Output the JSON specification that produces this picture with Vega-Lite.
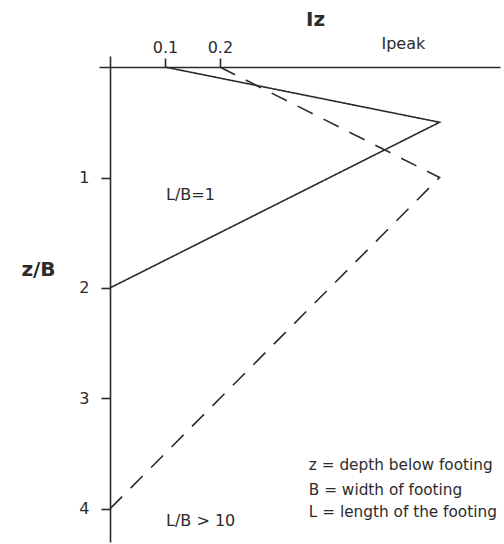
{
  "$schema": "https://vega.github.io/schema/vega-lite/v6.json",
  "width": 401,
  "height": 486,
  "autosize": {"type": "none"},
  "padding": {"left": 99, "top": 56, "right": 4, "bottom": 2},
  "background": "white",
  "config": {"view": {"stroke": null}, "font": "DejaVu Sans"},
  "datasets": {
    "curves": [
      {"case": "L/B=1", "order": 1, "Iz": 0.1, "zB": 0},
      {"case": "L/B=1", "order": 2, "Iz": 0.6, "zB": 0.5},
      {"case": "L/B=1", "order": 3, "Iz": 0.0, "zB": 2},
      {"case": "L/B>10", "order": 1, "Iz": 0.2, "zB": 0},
      {"case": "L/B>10", "order": 2, "Iz": 0.6, "zB": 1},
      {"case": "L/B>10", "order": 3, "Iz": 0.0, "zB": 4}
    ],
    "caseLabels": [
      {"text": "L/B=1", "Iz": 0.102, "zB": 1.16},
      {"text": "L/B > 10", "Iz": 0.102, "zB": 4.11}
    ],
    "notes": [
      {"text": "z = depth below footing", "Iz": 0.362, "zB": 3.6},
      {"text": "B = width of footing", "Iz": 0.362, "zB": 3.83},
      {"text": "L = length of the footing", "Iz": 0.362, "zB": 4.03}
    ],
    "centerLabels": [
      {"text": "Ipeak", "Iz": 0.534, "zB": -0.21}
    ]
  },
  "layer": [
    {
      "data": {"name": "curves"},
      "mark": {"type": "line", "color": "#2b2b2b", "strokeWidth": 1.6, "clip": false},
      "encoding": {
        "x": {
          "field": "Iz", "type": "quantitative",
          "scale": {"domain": [-0.02, 0.71], "nice": false, "zero": false},
          "axis": {
            "orient": "top", "offset": -11, "values": [0.1, 0.2], "format": ".1f",
            "grid": false, "domainColor": "#2b2b2b", "domainWidth": 1.6,
            "tickColor": "#2b2b2b", "tickWidth": 1.6, "tickSize": 9,
            "labelFontSize": 16, "labelColor": "#2b2b2b", "labelPadding": 3,
            "title": "Iz", "titleFontSize": 20, "titleFontWeight": "bold", "titleColor": "#2b2b2b",
            "titleX": 216, "titleY": -38, "titleAnchor": "middle"
          }
        },
        "y": {
          "field": "zB", "type": "quantitative",
          "scale": {"domain": [-0.1, 4.3], "nice": false, "zero": false, "reverse": true},
          "axis": {
            "orient": "left", "offset": -11, "values": [1, 2, 3, 4], "format": "d",
            "grid": false, "domainColor": "#2b2b2b", "domainWidth": 1.6,
            "tickColor": "#2b2b2b", "tickWidth": 1.6, "tickSize": 9,
            "labelFontSize": 16, "labelColor": "#2b2b2b", "labelPadding": 12,
            "title": "z/B", "titleFontSize": 20, "titleFontWeight": "bold", "titleColor": "#2b2b2b",
            "titleAngle": 0, "titleX": -72, "titleY": 213, "titleAlign": "center", "titleBaseline": "middle"
          }
        },
        "order": {"field": "order"},
        "detail": {"field": "case"},
        "strokeDash": {
          "field": "case", "type": "nominal",
          "scale": {"domain": ["L/B=1", "L/B>10"], "range": [[1, 0], [17, 12]]},
          "legend": null
        }
      }
    },
    {
      "data": {"name": "caseLabels"},
      "mark": {"type": "text", "fontSize": 16, "color": "#2b2b2b", "align": "left", "baseline": "middle", "clip": false},
      "encoding": {
        "x": {"field": "Iz", "type": "quantitative"},
        "y": {"field": "zB", "type": "quantitative"},
        "text": {"field": "text"}
      }
    },
    {
      "data": {"name": "notes"},
      "mark": {"type": "text", "fontSize": 15.3, "color": "#2b2b2b", "align": "left", "baseline": "middle", "clip": false},
      "encoding": {
        "x": {"field": "Iz", "type": "quantitative"},
        "y": {"field": "zB", "type": "quantitative"},
        "text": {"field": "text"}
      }
    },
    {
      "data": {"name": "centerLabels"},
      "mark": {"type": "text", "fontSize": 16, "color": "#2b2b2b", "align": "center", "baseline": "middle", "clip": false},
      "encoding": {
        "x": {"field": "Iz", "type": "quantitative"},
        "y": {"field": "zB", "type": "quantitative"},
        "text": {"field": "text"}
      }
    }
  ]
}
